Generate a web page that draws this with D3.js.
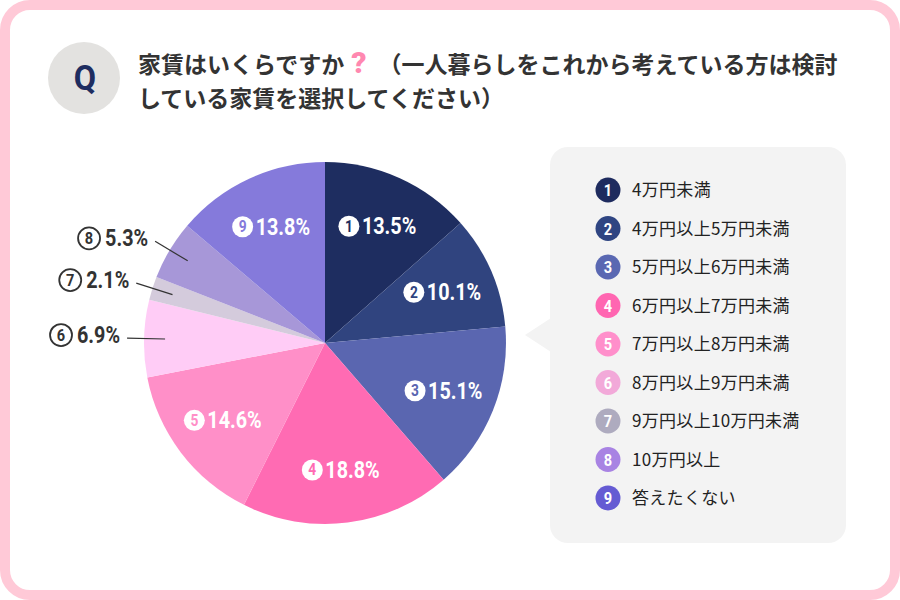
<!DOCTYPE html>
<html>
<head>
<meta charset="utf-8">
<script src="https://cdn.jsdelivr.net/npm/d3@7"></script>
<style>
  body { margin: 0; background: #fff; }
  svg { display: block; }
  .ja { font-family: "Noto Sans CJK JP", "Noto Sans", sans-serif; }
  .num { font-family: Roboto, "Noto Sans", sans-serif; font-weight: 700; }
</style>
</head>
<body>
<div id="chart"></div>
<script>
// answer categories and shares (%)
const categories = [
    "4万円未満", "4万円以上5万円未満", "5万円以上6万円未満", "6万円以上7万円未満",
    "7万円以上8万円未満", "8万円以上9万円未満", "9万円以上10万円未満", "10万円以上", "答えたくない"
];
const values = [13.5, 10.1, 15.1, 18.8, 14.6, 6.9, 2.1, 5.3, 13.8];
const itemNumbers = ["1", "2", "3", "4", "5", "6", "7", "8", "9"];

const titleStart = "家賃はいくらですか";
const titleMark = "?";
const titleRest = "（一人暮らしをこれから考えている方は検討";
const titleLine2 = "している家賃を選択してください）";

const sliceColors = ["#1e2d60", "#30447f", "#5a66b0", "#ff6bb3", "#ff8fc8", "#ffccf6", "#d4cbdc", "#a797d8", "#857adb"];
const legendColors = ["#1e2b5e", "#2f4582", "#5a68b2", "#ff66b1", "#ff8fcb", "#f2a9d9", "#aeabbf", "#a883e3", "#655bd3"];

const width = 900, height = 600;
const svg = d3.select("#chart").append("svg")
    .attr("width", width)
    .attr("height", height);

// Frame
svg.append("rect")
    .attr("x", 5).attr("y", 5)
    .attr("width", width - 10).attr("height", height - 10)
    .attr("rx", 25)
    .attr("fill", "#fff")
    .attr("stroke", "#ffc9d7")
    .attr("stroke-width", 10);

// Q badge
svg.append("circle")
    .attr("cx", 84).attr("cy", 78).attr("r", 36)
    .attr("fill", "#e3e2e0");
svg.append("text")
    .attr("class", "num")
    .attr("transform", "translate(85,90) scale(0.9,1)")
    .attr("text-anchor", "middle")
    .attr("font-size", 36)
    .attr("font-weight", 900)
    .attr("fill", "#1e2d60")
    .text("Q");

// Title
const title = svg.append("text")
    .attr("class", "ja")
    .attr("font-size", 23)
    .attr("font-weight", 700)
    .attr("fill", "#333");
title.append("tspan").attr("x", 138).attr("y", 73).text(titleStart);
title.append("tspan")
    .attr("dx", 7)
    .attr("font-family", "Roboto, sans-serif")
    .attr("font-weight", 900)
    .attr("font-size", 30)
    .attr("fill", "#ff88b0")
    .text(titleMark);
title.append("tspan").attr("dx", 12).text(titleRest);
title.append("tspan").attr("x", 138).attr("y", 107).text(titleLine2);

// Pie
const cx = 325, cy = 343, radius = 181;
const color = d3.scaleOrdinal().domain(d3.range(values.length)).range(sliceColors);
const legendColor = d3.scaleOrdinal().domain(d3.range(values.length)).range(legendColors);

const pie = d3.pie().sort(null).value(d => d);
const arcs = pie(values);
const arc = d3.arc().innerRadius(0).outerRadius(radius);
const labelArc = d3.arc().innerRadius(128).outerRadius(128);
const lineInner = d3.arc().innerRadius(160).outerRadius(160);
const lineOuter = d3.arc().innerRadius(198).outerRadius(198);

const g = svg.append("g").attr("transform", `translate(${cx},${cy})`);

g.selectAll("path.slice")
    .data(arcs)
    .enter()
    .append("path")
    .attr("class", "slice")
    .attr("d", arc)
    .attr("fill", (d, i) => color(i));

const isInside = v => v >= 10;
const pct = v => d3.format(".1f")(v) + "%";
const squeeze = 0.86; // narrow digits, like a condensed face

// Inside labels
arcs.forEach((d, i) => {
    if (!isInside(d.data)) return;
    const [lx, ly] = labelArc.centroid(d);
    const lg = g.append("g");
    lg.append("circle").attr("cx", 0).attr("cy", 0).attr("r", 10.5).attr("fill", "#fff");
    lg.append("text")
        .attr("class", "num")
        .attr("transform", `translate(0,5.5) scale(${squeeze},1)`)
        .attr("text-anchor", "middle")
        .attr("font-size", 16)
        .attr("fill", color(i))
        .text(itemNumbers[i]);
    const t = lg.append("text")
        .attr("class", "num")
        .attr("transform", `translate(13,8) scale(${squeeze},1)`)
        .attr("font-size", 23)
        .attr("fill", "#fff")
        .text(pct(d.data));
    const w = 23 + t.node().getComputedTextLength() * squeeze;
    lg.attr("transform", `translate(${lx - w / 2 + 10},${ly})`);
});

// Outside labels with leader lines
arcs.forEach((d, i) => {
    if (isInside(d.data)) return;
    const [x1, y1] = lineInner.centroid(d);
    const [x2, y2] = lineOuter.centroid(d);
    g.append("line")
        .attr("x1", x1).attr("y1", y1)
        .attr("x2", x2).attr("y2", y2)
        .attr("stroke", "#333")
        .attr("stroke-width", 1.2);
    const lg = g.append("g");
    const t = lg.append("text")
        .attr("class", "num")
        .attr("transform", `translate(0,8) scale(${squeeze},1)`)
        .attr("text-anchor", "end")
        .attr("font-size", 23)
        .attr("fill", "#333")
        .text(pct(d.data));
    const w = t.node().getComputedTextLength() * squeeze;
    lg.append("circle")
        .attr("cx", -w - 16).attr("cy", 0).attr("r", 11)
        .attr("fill", "none")
        .attr("stroke", "#333")
        .attr("stroke-width", 1.8);
    lg.append("text")
        .attr("class", "num")
        .attr("transform", `translate(${-w - 16},6) scale(${squeeze},1)`)
        .attr("text-anchor", "middle")
        .attr("font-size", 17)
        .attr("fill", "#333")
        .text(itemNumbers[i]);
    lg.attr("transform", `translate(${x2 - 7},${y2 - 3})`);
});

// Legend panel with pointer
const panel = { x: 550, y: 147, w: 296, h: 396 };
svg.append("rect")
    .attr("x", panel.x).attr("y", panel.y)
    .attr("width", panel.w).attr("height", panel.h)
    .attr("rx", 18)
    .attr("fill", "#f3f3f3");
svg.append("path")
    .attr("d", `M${panel.x + 1},318 L525,335 L${panel.x + 1},352 Z`)
    .attr("fill", "#f3f3f3");

const legendY = d3.scalePoint()
    .domain(d3.range(categories.length))
    .range([190, 498]);

const items = svg.append("g").selectAll("g")
    .data(categories)
    .enter()
    .append("g")
    .attr("transform", (d, i) => `translate(608,${legendY(i)})`);

items.append("circle")
    .attr("r", 12.5)
    .attr("fill", (d, i) => legendColor(i));
items.append("text")
    .attr("class", "num")
    .attr("transform", `translate(0,6) scale(${squeeze},1)`)
    .attr("text-anchor", "middle")
    .attr("font-size", 17)
    .attr("fill", "#fff")
    .text((d, i) => itemNumbers[i]);
items.append("text")
    .attr("class", "ja")
    .attr("x", 24)
    .attr("y", 6)
    .attr("font-size", 17)
    .attr("letter-spacing", 0.3)
    .attr("fill", "#222")
    .text(d => d);
</script>
</body>
</html>
